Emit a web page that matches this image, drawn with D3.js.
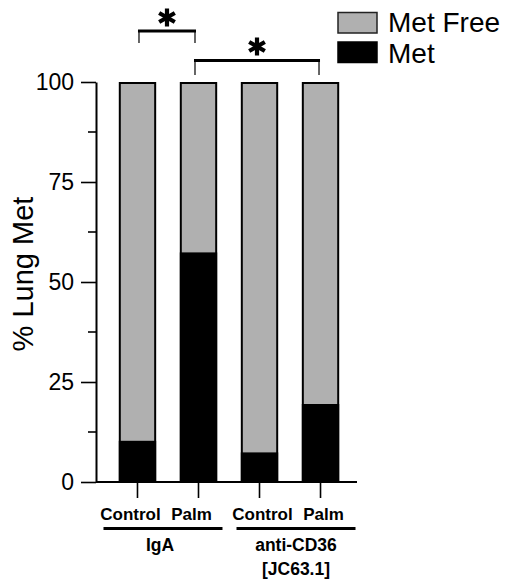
<!DOCTYPE html>
<html>
<head>
<meta charset="utf-8">
<script src="https://cdn.jsdelivr.net/npm/d3@7"></script>
<style>
  html, body { margin: 0; padding: 0; background: #fff; }
  svg { display: block; font-family: "Liberation Sans", Arial, sans-serif; }
</style>
</head>
<body>
<svg id="chart" width="505" height="582"></svg>
<script>
// Lung metastasis incidence by treatment (percent of mice)
const categories = ["IgA Control", "IgA Palm", "CD36 Control", "CD36 Palm"];
const catLabels  = ["Control", "Palm", "Control", "Palm"];
const groups     = ["IgA", "anti-CD36"];
const catGroup   = ["IgA", "IgA", "anti-CD36", "anti-CD36"];
const metValues  = [10.3, 57.4, 7.4, 19.5];
const yTicks     = [0, 25, 50, 75, 100];
const yMinorTicks = [12.5, 37.5, 62.5, 87.5];
const legendItems = ["Met Free", "Met"];
// significance comparisons (category indices)
const comparisons = [[0, 1], [1, 3]];

const svg = d3.select("#chart");
const GRAY = "#b0b0b0";

const y = d3.scaleLinear().domain([0, 100]).range([482, 82]);
const x = d3.scaleBand().domain(categories).range([96, 362])
  .paddingInner(0.42).paddingOuter(0.39);
const bw = x.bandwidth();
const cx = c => x(c) + bw / 2;
const groupShift = g => g === "IgA" ? -5 : 6;
const labelShift = g => g === "IgA" ? -7 : 3;

// bars: full met-free column with met portion stacked from zero
const bars = svg.append("g");
categories.forEach((c, i) => {
  bars.append("rect")
    .attr("x", x(c)).attr("y", y(100) + 1)
    .attr("width", bw).attr("height", y(0) - y(100) - 1)
    .attr("fill", GRAY).attr("stroke", "#000").attr("stroke-width", 2);
  bars.append("rect")
    .attr("x", x(c) - 1).attr("y", y(metValues[i]))
    .attr("width", bw + 2).attr("height", y(0) - y(metValues[i]))
    .attr("fill", "#000");
});

// y axis
const yAxis = svg.append("g").attr("transform", "translate(96,0)");
yAxis.call(d3.axisLeft(y).tickValues(yTicks).tickSize(15).tickPadding(7).tickSizeOuter(0))
  .call(g => g.select(".domain").attr("stroke-width", 2))
  .call(g => g.selectAll(".tick line").attr("stroke-width", 1.6))
  .call(g => g.selectAll(".tick text").attr("font-size", 23).attr("font-family", "Liberation Sans, Arial, sans-serif").attr("fill", "#000"));
yAxis.selectAll(".minor").data(yMinorTicks).join("line")
  .attr("x1", -8).attr("x2", 0)
  .attr("y1", d => y(d)).attr("y2", d => y(d))
  .attr("stroke", "#000").attr("stroke-width", 1.6);

// x axis
const xAxis = svg.append("g").attr("transform", `translate(0,${y(0)})`);
xAxis.append("line").attr("x1", 96).attr("x2", 357)
  .attr("stroke", "#000").attr("stroke-width", 2);
xAxis.selectAll(".xt").data(categories).join("line")
  .attr("x1", d => cx(d)).attr("x2", d => cx(d))
  .attr("y1", 0).attr("y2", 16)
  .attr("stroke", "#000").attr("stroke-width", 1.6);

// category labels
svg.selectAll(".cat").data(categories).join("text")
  .attr("x", (d, i) => cx(d) + labelShift(catGroup[i]))
  .attr("y", 520)
  .attr("text-anchor", "middle")
  .attr("font-size", 17).attr("font-weight", "bold")
  .text((d, i) => catLabels[i]);

// group underlines and labels
groups.forEach(g => {
  const members = categories.filter((c, i) => catGroup[i] === g);
  const mid = (cx(members[0]) + cx(members[members.length - 1])) / 2 + groupShift(g);
  svg.append("line")
    .attr("x1", mid - 59.5).attr("x2", mid + 59.5)
    .attr("y1", 528.5).attr("y2", 528.5)
    .attr("stroke", "#000").attr("stroke-width", 3);
  const t = svg.append("text")
    .attr("x", mid - (g === "IgA" ? 3 : 0)).attr("y", 551)
    .attr("text-anchor", "middle")
    .attr("font-size", 17.5).attr("font-weight", "bold");
  if (g === "anti-CD36") {
    t.append("tspan").attr("x", mid).text("anti-CD36");
    t.append("tspan").attr("x", mid).attr("dy", 24).text("[JC63.1]");
  } else {
    t.text(g);
  }
});

// y axis title
svg.append("text")
  .attr("transform", `translate(33,${y(52)}) rotate(-90)`)
  .attr("text-anchor", "middle")
  .attr("font-size", 29)
  .text("% Lung Met");

// significance brackets
const brackets = [
  { pair: comparisons[0], yLine: 31, yEnd: 43, star: 17.5 },
  { pair: comparisons[1], yLine: 60.5, yEnd: 75, star: 46.5 }
];
const asterisk = d3.symbol().type(d3.symbolAsterisk).size(230);
brackets.forEach(b => {
  const x1 = cx(categories[b.pair[0]]) + (b.pair[0] === 0 ? 1.5 : -3.5);
  const x2 = cx(categories[b.pair[1]]) + (b.pair[1] === 1 ? -3.5 : -1.5);
  const g = svg.append("g");
  g.append("line").attr("x1", x1).attr("x2", x1).attr("y1", b.yLine).attr("y2", b.yEnd)
    .attr("stroke", "#333").attr("stroke-width", 1.5);
  g.append("line").attr("x1", x2).attr("x2", x2).attr("y1", b.yLine).attr("y2", b.yEnd)
    .attr("stroke", "#333").attr("stroke-width", 1.5);
  g.append("line").attr("x1", x1 - 1).attr("x2", x2 + 1).attr("y1", b.yLine).attr("y2", b.yLine)
    .attr("stroke", "#000").attr("stroke-width", 3);
  g.append("path").attr("d", asterisk)
    .attr("transform", `translate(${(x1 + x2) / 2},${b.star})`)
    .attr("fill", "none").attr("stroke", "#000").attr("stroke-width", 4.2);
});

// legend
const legend = svg.append("g");
legendItems.forEach((name, i) => {
  const top = i === 0 ? 12.5 : 42;
  legend.append("rect")
    .attr("x", 338).attr("y", top).attr("width", 39).attr("height", 20.5)
    .attr("fill", i === 0 ? GRAY : "#000")
    .attr("stroke", i === 0 ? "#222" : "#000").attr("stroke-width", 1.5);
  legend.append("text")
    .attr("x", 388).attr("y", i === 0 ? 31.5 : 63)
    .attr("font-size", 28)
    .text(name);
});
</script>
</body>
</html>
